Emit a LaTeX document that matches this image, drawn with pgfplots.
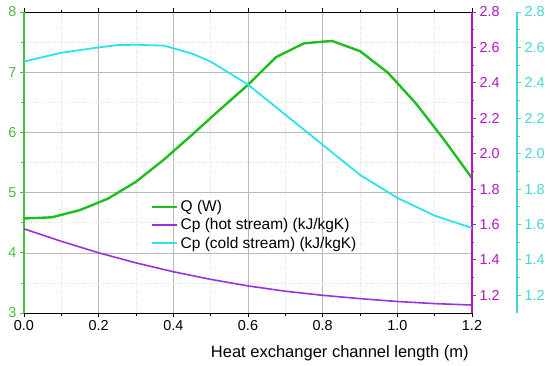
\documentclass[border=0pt]{standalone}
\usepackage{fontspec}
\setmainfont{Liberation Sans}
\usepackage{pgfplots}
\pgfplotsset{compat=1.18}
\definecolor{qgreen}{RGB}{30,190,30}
\definecolor{lgreen}{RGB}{70,190,60}
\definecolor{hotc}{RGB}{150,50,225}
\definecolor{raxis}{RGB}{185,20,200}
\definecolor{coldc}{RGB}{40,228,235}
\definecolor{caxis}{RGB}{70,215,210}
\begin{document}
\begin{tikzpicture}
\path[use as bounding box] (-24pt,-52pt) rectangle (526pt,313pt);
\pgfplotsset{
  base/.style={width=448pt, height=301pt, scale only axis,
    xmin=0, xmax=1.2,
    tick align=outside,
    major tick length=4pt, minor tick length=2.5pt,
    tick label style={font=\fontsize{14.4}{16}\selectfont},
    /pgf/number format/assume math mode=true,
    /pgf/number format/fixed,
    /pgf/number format/fixed zerofill,
    /pgf/number format/precision=1},
}
\begin{axis}[base,
  ymin=3, ymax=8,
  ytick={3,4,5,6,7,8},
  yticklabel style={/pgf/number format/precision=0},
  xtick={0,0.2,...,1.2},
  minor x tick num=1, minor y tick num=1,
  axis x line*=box, axis y line*=left,
  xtick pos=both, xticklabel pos=bottom,
  x axis line style={black, line width=0.9pt},
  y axis line style={draw=lgreen, line width=1.2pt},
  y tick style={draw=lgreen, line width=0.8pt},
  x tick style={black, line width=0.8pt},
  yticklabel style={text=lgreen},
  grid=both,
  major grid style={gray!55, line width=0.6pt},
  minor grid style={gray!25, dotted, line width=0.6pt},
  xlabel={Heat exchanger channel length (m)},
  xlabel style={at={(axis description cs:0.705,-0.095)}, anchor=north,
    font=\fontsize{16.5}{18}\selectfont},
  legend style={at={(axis description cs:0.277,0.388)}, anchor=north west,
    draw=none, fill=none, font=\fontsize{15.5}{17}\selectfont,
    nodes={inner sep=2pt}, row sep=1.5pt},
  legend cell align=left,
  legend image code/.code={\draw[#1] (0pt,0pt) -- (25pt,0pt);},
]
\addplot[qgreen, line width=2.4pt] coordinates {
(0,4.57) (0.075,4.59) (0.15,4.71) (0.225,4.9) (0.3,5.18) (0.375,5.55)
(0.45,5.96) (0.525,6.38) (0.6,6.79) (0.675,7.25) (0.75,7.48) (0.825,7.52)
(0.9,7.35) (0.975,6.99) (1.05,6.48) (1.125,5.88) (1.2,5.24)};
\addlegendentry{Q (W)}
\addlegendimage{hotc, line width=1.7pt}
\addlegendentry{Cp (hot stream) (kJ/kgK)}
\addlegendimage{coldc, line width=1.8pt}
\addlegendentry{Cp (cold stream) (kJ/kgK)}
\end{axis}
\begin{axis}[base,
  ymin=1.1, ymax=2.8,
  ytick={1.2,1.4,...,2.8},
  minor y tick num=1,
  axis y line*=right, axis x line=none,
  y axis line style={draw=raxis, line width=1.2pt},
  y tick style={draw=raxis, line width=0.8pt},
  yticklabel style={text=raxis},
]
\addplot[hotc, line width=1.6pt] coordinates {
(0,1.575) (0.1,1.505) (0.2,1.44) (0.3,1.383) (0.4,1.333) (0.5,1.29)
(0.6,1.253) (0.7,1.223) (0.8,1.2) (0.9,1.181) (1.0,1.165) (1.1,1.153) (1.2,1.145)};
\end{axis}
\begin{axis}[base,
  ymin=1.1, ymax=2.8,
  ytick={1.2,1.4,...,2.8},
  minor y tick num=1,
  axis y line*=right, axis x line=none,
  y axis line style={draw=caxis, line width=1.2pt, xshift=45pt},
  y tick style={draw=caxis, line width=0.8pt, xshift=45pt},
  yticklabel style={text=caxis, xshift=45pt},
]
\addplot[coldc, line width=1.8pt] coordinates {
(0,2.52) (0.1,2.57) (0.2,2.60) (0.25,2.613) (0.3,2.615) (0.375,2.61) (0.45,2.565) (0.5,2.52)
(0.6,2.39) (0.7,2.22) (0.8,2.05) (0.9,1.88) (1.0,1.75) (1.1,1.65) (1.2,1.58)};
\end{axis}
\end{tikzpicture}
\end{document}
